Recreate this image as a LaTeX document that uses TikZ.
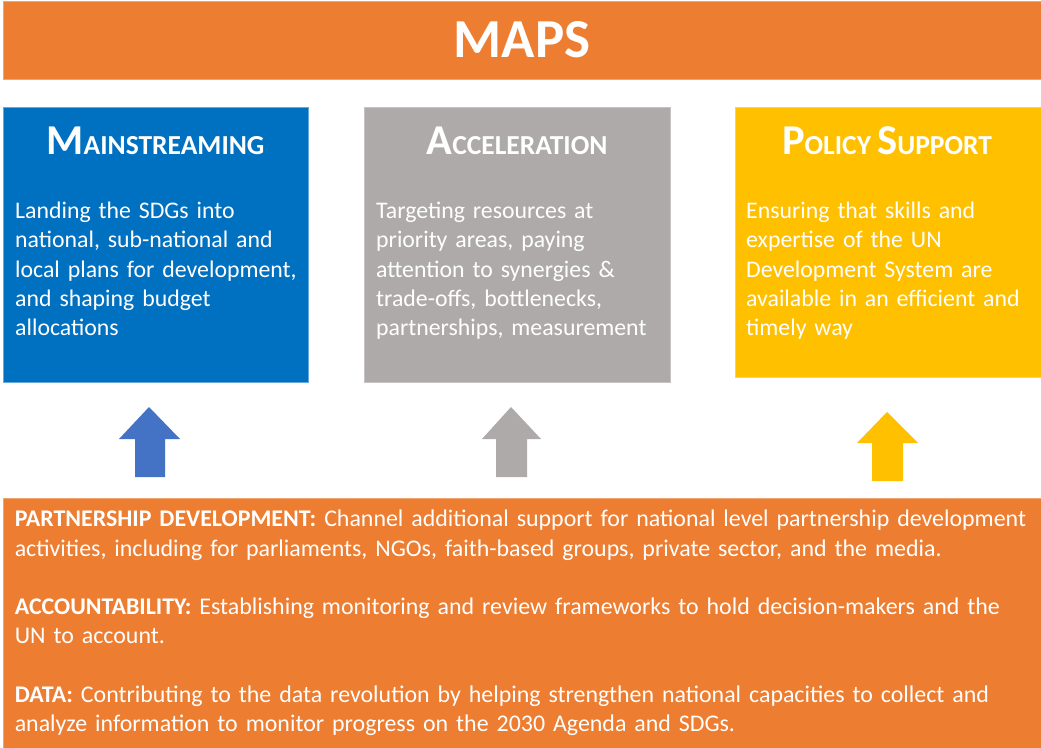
\documentclass[tikz,border=0pt]{standalone}
\usepackage{fontspec}
\setmainfont{Carlito}
\definecolor{maporange}{HTML}{ED7D31}
\definecolor{mapblue}{HTML}{0070C0}
\definecolor{mapgray}{HTML}{AEAAAA}
\definecolor{mapyellow}{HTML}{FFC000}
\definecolor{arrblue}{HTML}{4472C4}
\newcommand\smallcapsx[1]{{\fontsize{27.5}{27.5}\selectfont #1}}
\newcommand\bigcapx[1]{{\fontsize{42.5}{42.5}\selectfont #1}}
\begin{document}
\begin{tikzpicture}[x=1pt,y=-1pt,
  panel/.style={rectangle, anchor=north west, inner sep=0, outer sep=0},
  titletext/.style={anchor=base, inner sep=0, text=white, font=\bfseries},
  bodytext/.style={anchor=base west, inner sep=0, text=white, text width=#1, align=left,
     font=\fontsize{23.8}{29.4}\selectfont},
  bottomtext/.style={anchor=base west, inner sep=0, text=white, text width=1030pt, align=left,
     font=\fontsize{23.9}{29.3}\selectfont}]
\useasboundingbox (0,0) rectangle (1041,747);
\fill[white] (0,0) rectangle (1041,747);
% banner
\node[panel, fill=maporange, draw=maporange!70!white, minimum width=1040pt, minimum height=78pt] (banner) at (3,1) {};
\node[anchor=base, inner sep=0, text=white, font=\bfseries\fontsize{55}{55}\selectfont] (maps) at (522,57) {MAPS};
% boxes
\node[panel, fill=mapblue, draw=mapblue!60!white, minimum width=305pt, minimum height=275pt] (mbox) at (3,107) {};
\node[panel, fill=mapgray, draw=mapgray!70!white, minimum width=306pt, minimum height=275pt] (abox) at (364,107) {};
\node[panel, fill=mapyellow, draw=mapyellow!70!white, minimum width=306pt, minimum height=270pt] (pbox) at (735,107) {};
% titles
\node[titletext] (mtitle) at (155.5,154) {\bigcapx{M}\smallcapsx{AINSTREAMING}};
\node[titletext] (atitle) at (517,154) {\bigcapx{A}\smallcapsx{CCELERATION}};
\node[titletext] (ptitle) at (887,154) {\bigcapx{P}\smallcapsx{OLICY\ }\bigcapx{S}\smallcapsx{UPPORT}};
% bodies
\node[bodytext=300pt] (mbody) at (15,218.3) {Landing the SDGs into\\ national, sub-national and\\ local plans for development,\\ and shaping budget\\ allocations};
\node[bodytext=300pt] (abody) at (376,218.3) {Targeting resources at\\ priority areas, paying\\ attention to synergies \&\\ trade-offs, bottlenecks,\\ partnerships, measurement};
\node[bodytext=300pt] (pbody) at (746,218.3) {Ensuring that skills and\\ expertise of the UN\\ Development System are\\ available in an efficient and\\ timely way};
% bottom box
\node[panel, fill=maporange, draw=maporange!70!white, minimum width=1040pt, minimum height=250pt] (bbox) at (3,498) {};
\node[bottomtext] (btext) at (14.6,526.7) {\textbf{PARTNERSHIP DEVELOPMENT:} Channel additional support for national level partnership development\\ activities, including for parliaments, NGOs, faith-based groups, private sector, and the media.\\[29.3pt] \textbf{ACCOUNTABILITY:} Establishing monitoring and review frameworks to hold decision-makers and the\\ UN to account.\\[29.3pt] \textbf{DATA:} Contributing to the data revolution by helping strengthen national capacities to collect and\\ analyze information to monitor progress on the 2030 Agenda and SDGs.};
% arrows
\fill[arrblue] (119,439) -- (149,407) -- (180,439) -- (165,439) -- (165,477) -- (135,477) -- (135,439) -- cycle;
\fill[mapgray] (482,439) -- (511,407) -- (541,439) -- (527,439) -- (527,477) -- (496,477) -- (496,439) -- cycle;
\fill[mapyellow] (857,443) -- (887,412) -- (918,443) -- (903,443) -- (903,481) -- (872,481) -- (872,443) -- cycle;
\end{tikzpicture}
\end{document}
